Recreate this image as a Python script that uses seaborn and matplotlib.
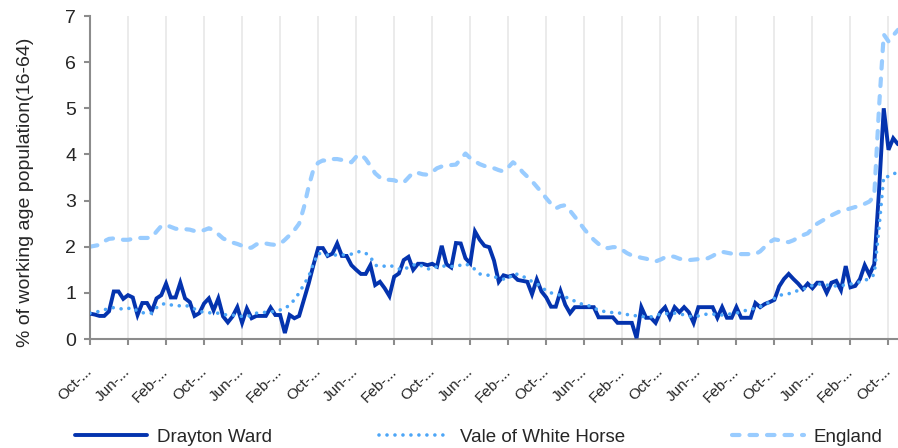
import numpy as np
import pandas as pd
import seaborn as sns
import matplotlib.pyplot as plt
import matplotlib.transforms as mtransforms

sns.set_style("white")
plt.rcParams["font.family"] = ["Liberation Sans", "DejaVu Sans"]

# monthly claimant rates (% of working age population 16-64)
drayton = [
    0.55, 0.53, 0.50, 0.50, 0.60, 1.03, 1.03, 0.87, 0.95, 0.90,
    0.52, 0.78, 0.78, 0.60, 0.88, 0.95, 1.20, 0.90, 0.90, 1.22,
    0.88, 0.80, 0.50, 0.56, 0.77, 0.88, 0.62, 0.88, 0.49, 0.36,
    0.49, 0.69, 0.35, 0.66, 0.45, 0.50, 0.50, 0.50, 0.68, 0.52,
    0.52, 0.13, 0.52, 0.45, 0.50, 0.85, 1.20, 1.60, 1.97, 1.97,
    1.80, 1.85, 2.07, 1.80, 1.80, 1.60, 1.50, 1.41, 1.41, 1.60,
    1.17, 1.24, 1.10, 0.93, 1.35, 1.42, 1.71, 1.78, 1.50, 1.63,
    1.63, 1.60, 1.63, 1.57, 2.02, 1.62, 1.55, 2.08, 2.07, 1.75,
    1.64, 2.33, 2.15, 2.02, 1.99, 1.70, 1.24, 1.38, 1.35, 1.38,
    1.28, 1.26, 1.24, 0.97, 1.29, 1.03, 0.90, 0.70, 0.70, 1.04,
    0.74, 0.56, 0.69, 0.69, 0.69, 0.69, 0.69, 0.47, 0.47, 0.47,
    0.47, 0.35, 0.35, 0.35, 0.35, 0.02, 0.69, 0.46, 0.46, 0.35,
    0.58, 0.69, 0.46, 0.69, 0.58, 0.69, 0.58, 0.35, 0.69, 0.69,
    0.69, 0.69, 0.46, 0.69, 0.46, 0.46, 0.69, 0.46, 0.46, 0.46,
    0.78, 0.69, 0.76, 0.80, 0.85, 1.14, 1.30, 1.41, 1.30, 1.20,
    1.08, 1.20, 1.10, 1.22, 1.22, 1.00, 1.22, 1.26, 1.06, 1.58,
    1.12, 1.15, 1.30, 1.60, 1.39, 1.62, 3.20, 5.00, 4.10, 4.35,
    4.22,
]

vale = [
    0.56, 0.58, 0.60, 0.63, 0.67, 0.68, 0.67, 0.64, 0.66, 0.68,
    0.60, 0.57, 0.56, 0.56, 0.68, 0.75, 0.77, 0.74, 0.72, 0.72,
    0.73, 0.70, 0.65, 0.60, 0.58, 0.57, 0.56, 0.56, 0.53, 0.52,
    0.52, 0.50, 0.49, 0.48, 0.52, 0.56, 0.57, 0.58, 0.59, 0.60,
    0.63, 0.66, 0.74, 0.85, 1.00, 1.18, 1.35, 1.63, 1.86, 1.83,
    1.82, 1.82, 1.82, 1.82, 1.83, 1.84, 1.88, 1.90, 1.86, 1.78,
    1.60, 1.57, 1.58, 1.60, 1.56, 1.52, 1.50, 1.56, 1.60, 1.63,
    1.57, 1.52, 1.52, 1.57, 1.58, 1.58, 1.57, 1.58, 1.60, 1.63,
    1.58, 1.51, 1.41, 1.39, 1.38, 1.35, 1.32, 1.30, 1.30, 1.42,
    1.40, 1.37, 1.29, 1.25, 1.20, 1.13, 1.04, 1.00, 0.97, 0.95,
    0.91, 0.87, 0.82, 0.78, 0.73, 0.72, 0.68, 0.62, 0.60, 0.59,
    0.57, 0.57, 0.55, 0.53, 0.52, 0.50, 0.49, 0.48, 0.48, 0.50,
    0.54, 0.55, 0.55, 0.56, 0.55, 0.52, 0.49, 0.49, 0.50, 0.53,
    0.54, 0.54, 0.53, 0.52, 0.53, 0.55, 0.56, 0.59, 0.62, 0.64,
    0.67, 0.70, 0.75, 0.80, 0.88, 0.95, 0.96, 0.98, 1.02, 1.05,
    1.08, 1.12, 1.16, 1.19, 1.19, 1.17, 1.15, 1.15, 1.16, 1.17,
    1.19, 1.21, 1.24, 1.27, 1.31, 1.40, 2.40, 3.52, 3.52, 3.56,
    3.65,
]

england = [
    2.00, 2.02, 2.04, 2.12, 2.17, 2.18, 2.17, 2.15, 2.15, 2.17,
    2.19, 2.19, 2.19, 2.20, 2.33, 2.45, 2.47, 2.43, 2.39, 2.38,
    2.38, 2.37, 2.34, 2.33, 2.36, 2.40, 2.36, 2.27, 2.18, 2.13,
    2.09, 2.06, 2.02, 1.97, 1.98, 2.05, 2.08, 2.07, 2.05, 2.04,
    2.06, 2.15, 2.25, 2.36, 2.50, 2.85, 3.30, 3.67, 3.82, 3.87,
    3.86, 3.90, 3.90, 3.88, 3.85, 3.83, 3.95, 4.00, 3.90, 3.75,
    3.59, 3.50, 3.45, 3.45, 3.44, 3.40, 3.39, 3.50, 3.61, 3.60,
    3.57, 3.56, 3.62, 3.70, 3.74, 3.75, 3.77, 3.78, 3.90, 4.02,
    3.92, 3.85, 3.79, 3.75, 3.72, 3.70, 3.66, 3.63, 3.72, 3.83,
    3.75, 3.62, 3.52, 3.42, 3.30, 3.18, 3.05, 2.93, 2.83, 2.88,
    2.90, 2.78, 2.65, 2.52, 2.38, 2.26, 2.15, 2.06, 1.98, 1.97,
    1.99, 1.99, 1.93, 1.86, 1.81, 1.79, 1.76, 1.74, 1.71, 1.68,
    1.72, 1.77, 1.80, 1.78, 1.74, 1.72, 1.71, 1.72, 1.73, 1.74,
    1.75, 1.80, 1.86, 1.89, 1.87, 1.85, 1.84, 1.84, 1.84, 1.84,
    1.84, 1.90, 2.00, 2.10, 2.16, 2.14, 2.11, 2.10, 2.14, 2.20,
    2.25, 2.29, 2.40, 2.50, 2.56, 2.62, 2.68, 2.73, 2.78, 2.80,
    2.83, 2.86, 2.88, 2.93, 2.98, 3.10, 5.00, 6.60, 6.45, 6.58,
    6.70,
]

tick_labels = ["Oct-...", "Jun-...", "Feb-..."] * 7 + ["Oct-..."]

n = len(england)
df = pd.DataFrame({
    "month": np.arange(n),
    "Drayton Ward": drayton[:n],
    "Vale of White Horse": vale[:n],
    "England": england[:n],
})

fig = plt.figure(figsize=(8.98, 4.48), dpi=100)
ax = fig.add_axes([90 / 898, 1 - 339 / 448, 808 / 898, 323 / 448])

# England (dashed), Drayton (solid), Vale (dotted)
sns.lineplot(data=df, x="month", y="England", ax=ax, color="#99CCFF",
             linewidth=3.0, legend=False, zorder=2)
l_eng = ax.lines[-1]
l_eng.set_linestyle((0, (1.8, 2.4)))
l_eng.set_dash_capstyle("round")

sns.lineplot(data=df, x="month", y="Drayton Ward", ax=ax, color="#0433AE",
             linewidth=2.8, legend=False, zorder=3)
l_dw = ax.lines[-1]
l_dw.set_solid_joinstyle("miter")

sns.lineplot(data=df, x="month", y="Vale of White Horse", ax=ax, color="#4DA6F7",
             linewidth=2.6, legend=False, zorder=4)
l_vale = ax.lines[-1]
l_vale.set_linestyle((0, (0.01, 2.2)))
l_vale.set_dash_capstyle("round")

ax.set_xlim(0, n - 1)
ax.set_ylim(0, 7)
ax.set_yticks(range(0, 8))
ticks = list(range(0, n, 8))
ax.set_xticks(ticks)
ax.set_xticklabels(tick_labels[:len(ticks)], rotation=45, ha="right", va="center",
                   rotation_mode="anchor", fontsize=11)
shift = mtransforms.ScaledTranslation(-4 / 100, 0, fig.dpi_scale_trans)
for lab in ax.get_xticklabels():
    lab.set_transform(lab.get_transform() + shift)
ax.tick_params(axis="y", labelsize=14, length=4, width=1.5, color="#8C8C8C",
               direction="out", left=True, pad=6)
ax.tick_params(axis="x", length=4, width=1.5, color="#8C8C8C",
               direction="out", bottom=True, pad=18)

ax.grid(axis="x", color="#E8E8E8", linewidth=1.2)
ax.grid(axis="y", visible=False)
for side in ["top", "right"]:
    ax.spines[side].set_visible(False)
for side in ["left", "bottom"]:
    ax.spines[side].set_color("#8C8C8C")
    ax.spines[side].set_linewidth(1.5)

ax.set_xlabel("")
ax.set_ylabel("% of working age population(16-64)", fontsize=14)
ax.yaxis.set_label_coords(-56 / 808, (339 - 192) / 323)

fig.legend([l_dw, l_vale, l_eng], ["Drayton Ward", "Vale of White Horse", "England"],
           loc="center", bbox_to_anchor=(479 / 898, 1 - 437 / 448), ncol=3,
           frameon=False, fontsize=13.5, handlelength=3.8, handletextpad=0.55,
           columnspacing=5.7, borderpad=0)

fig.savefig("out.png", dpi=100)
plt.close(fig)
